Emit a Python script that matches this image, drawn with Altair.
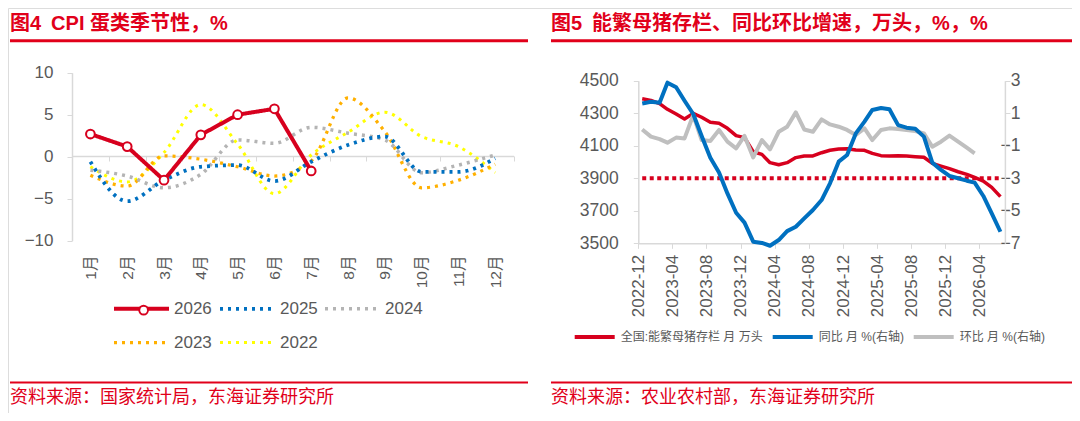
import altair as alt
import pandas as pd

RED = "#D7001E"
TITLE_RED = "#E1001A"
BLUE = "#0070C0"
GRAY = "#BFBFBF"
GRAY_DOT = "#B4B4B4"
ORANGE = "#FFB000"
YELLOW = "#FFFF00"
FONT = "Liberation Sans, Noto Sans CJK SC, sans-serif"
TXT = "#595959"
AX = "#D9D9D9"

# ---------------- left chart data: CPI egg seasonality (%) ----------------
months = ["1月", "2月", "3月", "4月", "5月", "6月", "7月", "8月", "9月", "10月", "11月", "12月"]
years = ["2026", "2025", "2024", "2023", "2022"]
year_colors = [RED, BLUE, GRAY_DOT, ORANGE, YELLOW]
cpi_2026 = [2.7, 1.2, -2.8, 2.6, 5.0, 5.7, -1.7]
cpi_2025 = [-0.6, -5.3, -2.8, -1.2, -1.0, -2.9, -0.6, 1.4, 2.4, -1.8, -1.8, -0.2]
cpi_2024 = [-1.6, -2.3, -3.7, -2.1, 2.0, 1.6, 3.5, 2.8, 2.0, -1.9, -1.0, 0.2]
cpi_2023 = [-2.2, -3.5, 0.1, -0.3, -1.2, -2.3, -0.5, 7.0, 3.0, -3.7, -2.8, -0.9]
cpi_2022 = [-1.2, -3.0, 0.5, 6.2, 1.5, -4.4, 0.2, 2.9, 5.3, 2.4, 1.2, -1.9]

rows = []
for yr, vals in [("2022", cpi_2022), ("2023", cpi_2023), ("2024", cpi_2024), ("2025", cpi_2025)]:
    for m, v in zip(months, vals):
        rows.append({"month": m, "year": yr, "value": v})
dotted_df = pd.DataFrame(rows)
df26 = pd.DataFrame({"month": months[:len(cpi_2026)], "year": "2026", "ring": "r", "hole": "h",
                     "value": cpi_2026})

# ---------------- right chart data: breeding sows ----------------
series_names = ["全国:能繁母猪存栏 月 万头", "同比 月 %(右轴)", "环比 月 %(右轴)"]
sows = [4389, 4379, 4359, 4324, 4295, 4264, 4299, 4275, 4244, 4238, 4207, 4162, 4150, 4063,
        4047, 3996, 3983, 3996, 4027, 4037, 4037, 4057, 4072, 4080, 4082, 4074, 4072, 4053,
        4039, 4037, 4039, 4037, 4033, 4029, 3992, 3975, 3959, 3940, 3924, 3905, 3883, 3844, 3787]
yoy = [1.6, 1.7, 1.65, 2.88, 2.6, 1.77, 0.95, -0.4, -1.74, -2.64, -3.93, -5.12, -5.73, -6.9,
       -6.98, -7.15, -6.8, -6.25, -5.98, -5.47, -4.95, -4.34, -3.31, -1.98, -1.57, -0.24, 0.48,
       1.2, 1.32, 1.24, 0.27, 0.11, 0.05, -0.44, -2.04, -2.49, -2.86, -3.0, -3.15, -3.27, -4.09,
       -5.16, -6.29]
mom = [0.0, -0.44, -0.59, -0.81, -0.5, -0.55, 0.89, -0.65, -0.71, -0.03, -0.75, -1.16, -0.4,
       -1.72, -0.65, -1.22, -0.14, 0.17, 1.05, 0.0, -0.14, 0.62, 0.31, 0.17, -0.03, -0.34, 0.07,
       -0.65, -0.03, 0.07, 0.03, -0.03, -0.1, -0.24, -1.06, -0.75, -0.38, -0.75, -1.12, -1.47]
ref_level = 3900
tick_months = ["2022-12", "2023-04", "2023-08", "2023-12", "2024-04", "2024-08", "2024-12",
               "2025-04", "2025-08", "2025-12", "2026-04"]

dates = []
y, m = 2022, 12
for _ in range(len(sows)):
    dates.append(f"{y}-{m:02d}-15")
    m += 1
    if m > 12:
        m = 1
        y += 1

sows_df = pd.DataFrame({"date": dates, "value": sows, "series": series_names[0]})
ref_df = pd.DataFrame({"date": dates, "value": [ref_level] * len(dates)})
pct_df = pd.concat([
    pd.DataFrame({"date": dates[:len(mom)], "value": mom, "series": series_names[2]}),
    pd.DataFrame({"date": dates[:len(yoy)], "value": yoy, "series": series_names[1]}),
])

# ---------------- left chart ----------------
lx = alt.X("month:O", bandPosition=0.5,
           scale=alt.Scale(type="band", domain=months, range=[64, 505.6], paddingInner=0, paddingOuter=0),
           axis=alt.Axis(orient="bottom", offset=-257, tickBand="extent", tickSize=5, tickColor=AX,
                         domainColor=AX, domainWidth=1.5, labelAngle=-90, labelPadding=94,
                         labelFontSize=15.5, labelFont=FONT, labelColor=TXT, title=None, grid=False))
ly = alt.Y("value:Q",
           scale=alt.Scale(domain=[-10, 10], range=[232.7, 64.7], nice=False, zero=False),
           axis=alt.Axis(orient="left", offset=-64, values=[-10, -5, 0, 5, 10], tickSize=5,
                         tickColor=AX, domainColor=AX, domainWidth=1.5, labelFontSize=17,
                         labelFont=FONT, labelColor=TXT, labelPadding=14, title=None, grid=False))
left_legend = alt.Legend(orient="none", legendX=125, legendY=292, direction="horizontal",
                         columns=3, symbolType="M-5,0H5", symbolSize=121, labelFontSize=17,
                         labelFont=FONT, labelColor=TXT, labelOffset=24, columnPadding=0,
                         rowPadding=16, title=None)
lcolor = alt.Color("year:N", scale=alt.Scale(domain=years, range=year_colors), legend=left_legend)
ldash = alt.StrokeDash("year:N", scale=alt.Scale(domain=years, range=[[1, 0], [3, 5], [3, 5], [3, 5], [3, 5]]),
                       legend=left_legend)
lwidth = alt.StrokeWidth("year:N", scale=alt.Scale(domain=years, range=[4, 3, 3, 3, 3]), legend=left_legend)

ring_legend = alt.Legend(orient="none", legendX=129.1, legendY=295.6, symbolType="circle",
                         symbolSize=115, symbolOpacity=1, labelOpacity=0, labelFontSize=6, title=None)
hole_legend = alt.Legend(orient="none", legendX=131.15, legendY=297.65, symbolType="circle",
                         symbolSize=45, symbolOpacity=1, labelOpacity=0, labelFontSize=6, title=None)

dotted = alt.Chart(dotted_df).mark_line(interpolate="monotone").encode(
    x=lx, y=ly, color=lcolor, strokeDash=ldash, strokeWidth=lwidth, detail="year:N")
line26 = alt.Chart(df26).mark_line(strokeJoin="round").encode(
    x=lx, y=ly, color=lcolor, strokeDash=ldash, strokeWidth=lwidth)
ring26 = alt.Chart(df26).mark_point(filled=True, color=RED, size=115, opacity=1).encode(
    x=lx, y=ly,
    shape=alt.Shape("ring:N", scale=alt.Scale(domain=["r"], range=["circle"]), legend=ring_legend))
hole26 = alt.Chart(df26).mark_point(filled=True, color="white", size=45, opacity=1).encode(
    x=lx, y=ly,
    shape=alt.Shape("hole:N", scale=alt.Scale(domain=["h"], range=["circle"]), legend=hole_legend))
left_layer = alt.layer(dotted, line26, ring26, hole26).resolve_scale(shape="independent")

# ---------------- right chart ----------------
def dt(s):
    yy, mm = s.split("-")
    return alt.DateTime(year=int(yy), month=int(mm), date=1, utc=True)

rx = alt.X("date:T",
           scale=alt.Scale(type="utc", domain=[dt("2022-12"), dt("2026-07")], range=[630.3, 996.9], nice=False),
           axis=alt.Axis(orient="bottom", offset=-169.7, values=[dt(s) for s in tick_months],
                         labelExpr="utcFormat(datum.value, '%Y-%m')", labelAngle=-90, tickSize=5,
                         tickColor=AX, domainColor=AX, domainWidth=1.5, labelPadding=6,
                         labelFontSize=17, labelFont=FONT, labelColor=TXT, title=None, grid=False))
ry_left = alt.Y("value:Q",
                scale=alt.Scale(domain=[3500, 4500], range=[235.3, 72.7], nice=False, zero=False),
                axis=alt.Axis(orient="left", offset=-630.3, values=[3500, 3700, 3900, 4100, 4300, 4500],
                              format="d", tickSize=5, tickColor=AX, domainColor=AX, domainWidth=1.5,
                              labelFontSize=17.5, labelFont=FONT, labelColor=TXT, labelPadding=15,
                              title=None, grid=False))
ry_right = alt.Y("value:Q",
                 scale=alt.Scale(domain=[-7, 3], range=[235.3, 72.7], nice=False, zero=False),
                 axis=alt.Axis(orient="right", offset=-67.1, values=[-7, -5, -3, -1, 1, 3],
                               format="d", tickSize=5, tickColor=AX, domainColor=AX, domainWidth=1.5,
                               labelFontSize=17.5, labelFont=FONT, labelColor=TXT, labelAlign="right",
                               labelPadding=10, title=None, grid=False))
right_legend = alt.Legend(orient="none", legendX=564.7, legendY=307, direction="horizontal",
                          columns=3, symbolType="stroke", symbolSize=1600, symbolStrokeWidth=4,
                          labelFontSize=12, labelFont=FONT, labelColor=TXT, labelOffset=4,
                          columnPadding=1, labelLimit=300, title=None)
rcolor = alt.Color("series:N", scale=alt.Scale(domain=series_names, range=[RED, BLUE, GRAY]),
                   legend=right_legend)

sows_line = alt.Chart(sows_df).mark_line(strokeWidth=3.5, strokeJoin="round").encode(
    x=rx, y=ry_left, color=rcolor)
ref_line = alt.Chart(ref_df).mark_line(strokeWidth=4, strokeDash=[4, 3.5], color=RED).encode(
    x=rx, y=ry_left)
sows_group = alt.layer(sows_line, ref_line)
pct_lines = alt.Chart(pct_df).mark_line(strokeWidth=4, strokeJoin="round").encode(
    x=rx, y=ry_right, color=rcolor, detail="series:N")
right_layer = alt.layer(sows_group, pct_lines).resolve_scale(y="independent")

# ---------------- decorations (titles, rules, sources) ----------------
one = pd.DataFrame({"k": [0]})

def txt(s, x, y, size, bold=False):
    return alt.Chart(one).mark_text(text=s, align="left", baseline="middle", font=FONT, fontSize=size,
                                    fontWeight="bold" if bold else "normal", color=TITLE_RED).encode(
        x=alt.value(x), y=alt.value(y))

def hrule(x1, x2, y, w):
    return alt.Chart(one).mark_rule(color=TITLE_RED, strokeWidth=w).encode(
        x=alt.value(x1), x2=alt.value(x2), y=alt.value(y))

decor = [
    txt("图4\u2002CPI 蛋类季节性，%", 2, 15.5, 20, True),
    txt("图5\u2002能繁母猪存栏、同比环比增速，万头，%，%", 543, 15.5, 20, True),
    hrule(2, 520, 32.8, 3),
    hrule(543, 1064, 32.8, 3),
    hrule(2, 520, 374.5, 2.2),
    hrule(543, 1064, 374.5, 2.2),
    txt("资料来源：国家统计局，东海证券研究所", 2, 390, 18),
    txt("资料来源：农业农村部，东海证券研究所", 543, 390, 18),
]

chart = alt.layer(left_layer, right_layer, *decor).resolve_scale(
    x="independent", y="independent", color="independent",
    strokeDash="independent", strokeWidth="independent", shape="independent"
).properties(
    width=1064, height=405, autosize=alt.AutoSizeParams(type="none"), padding=0
).configure_view(stroke=None).configure(background="white")

chart.save("out.html", embed_options={"renderer": "svg", "actions": False})
